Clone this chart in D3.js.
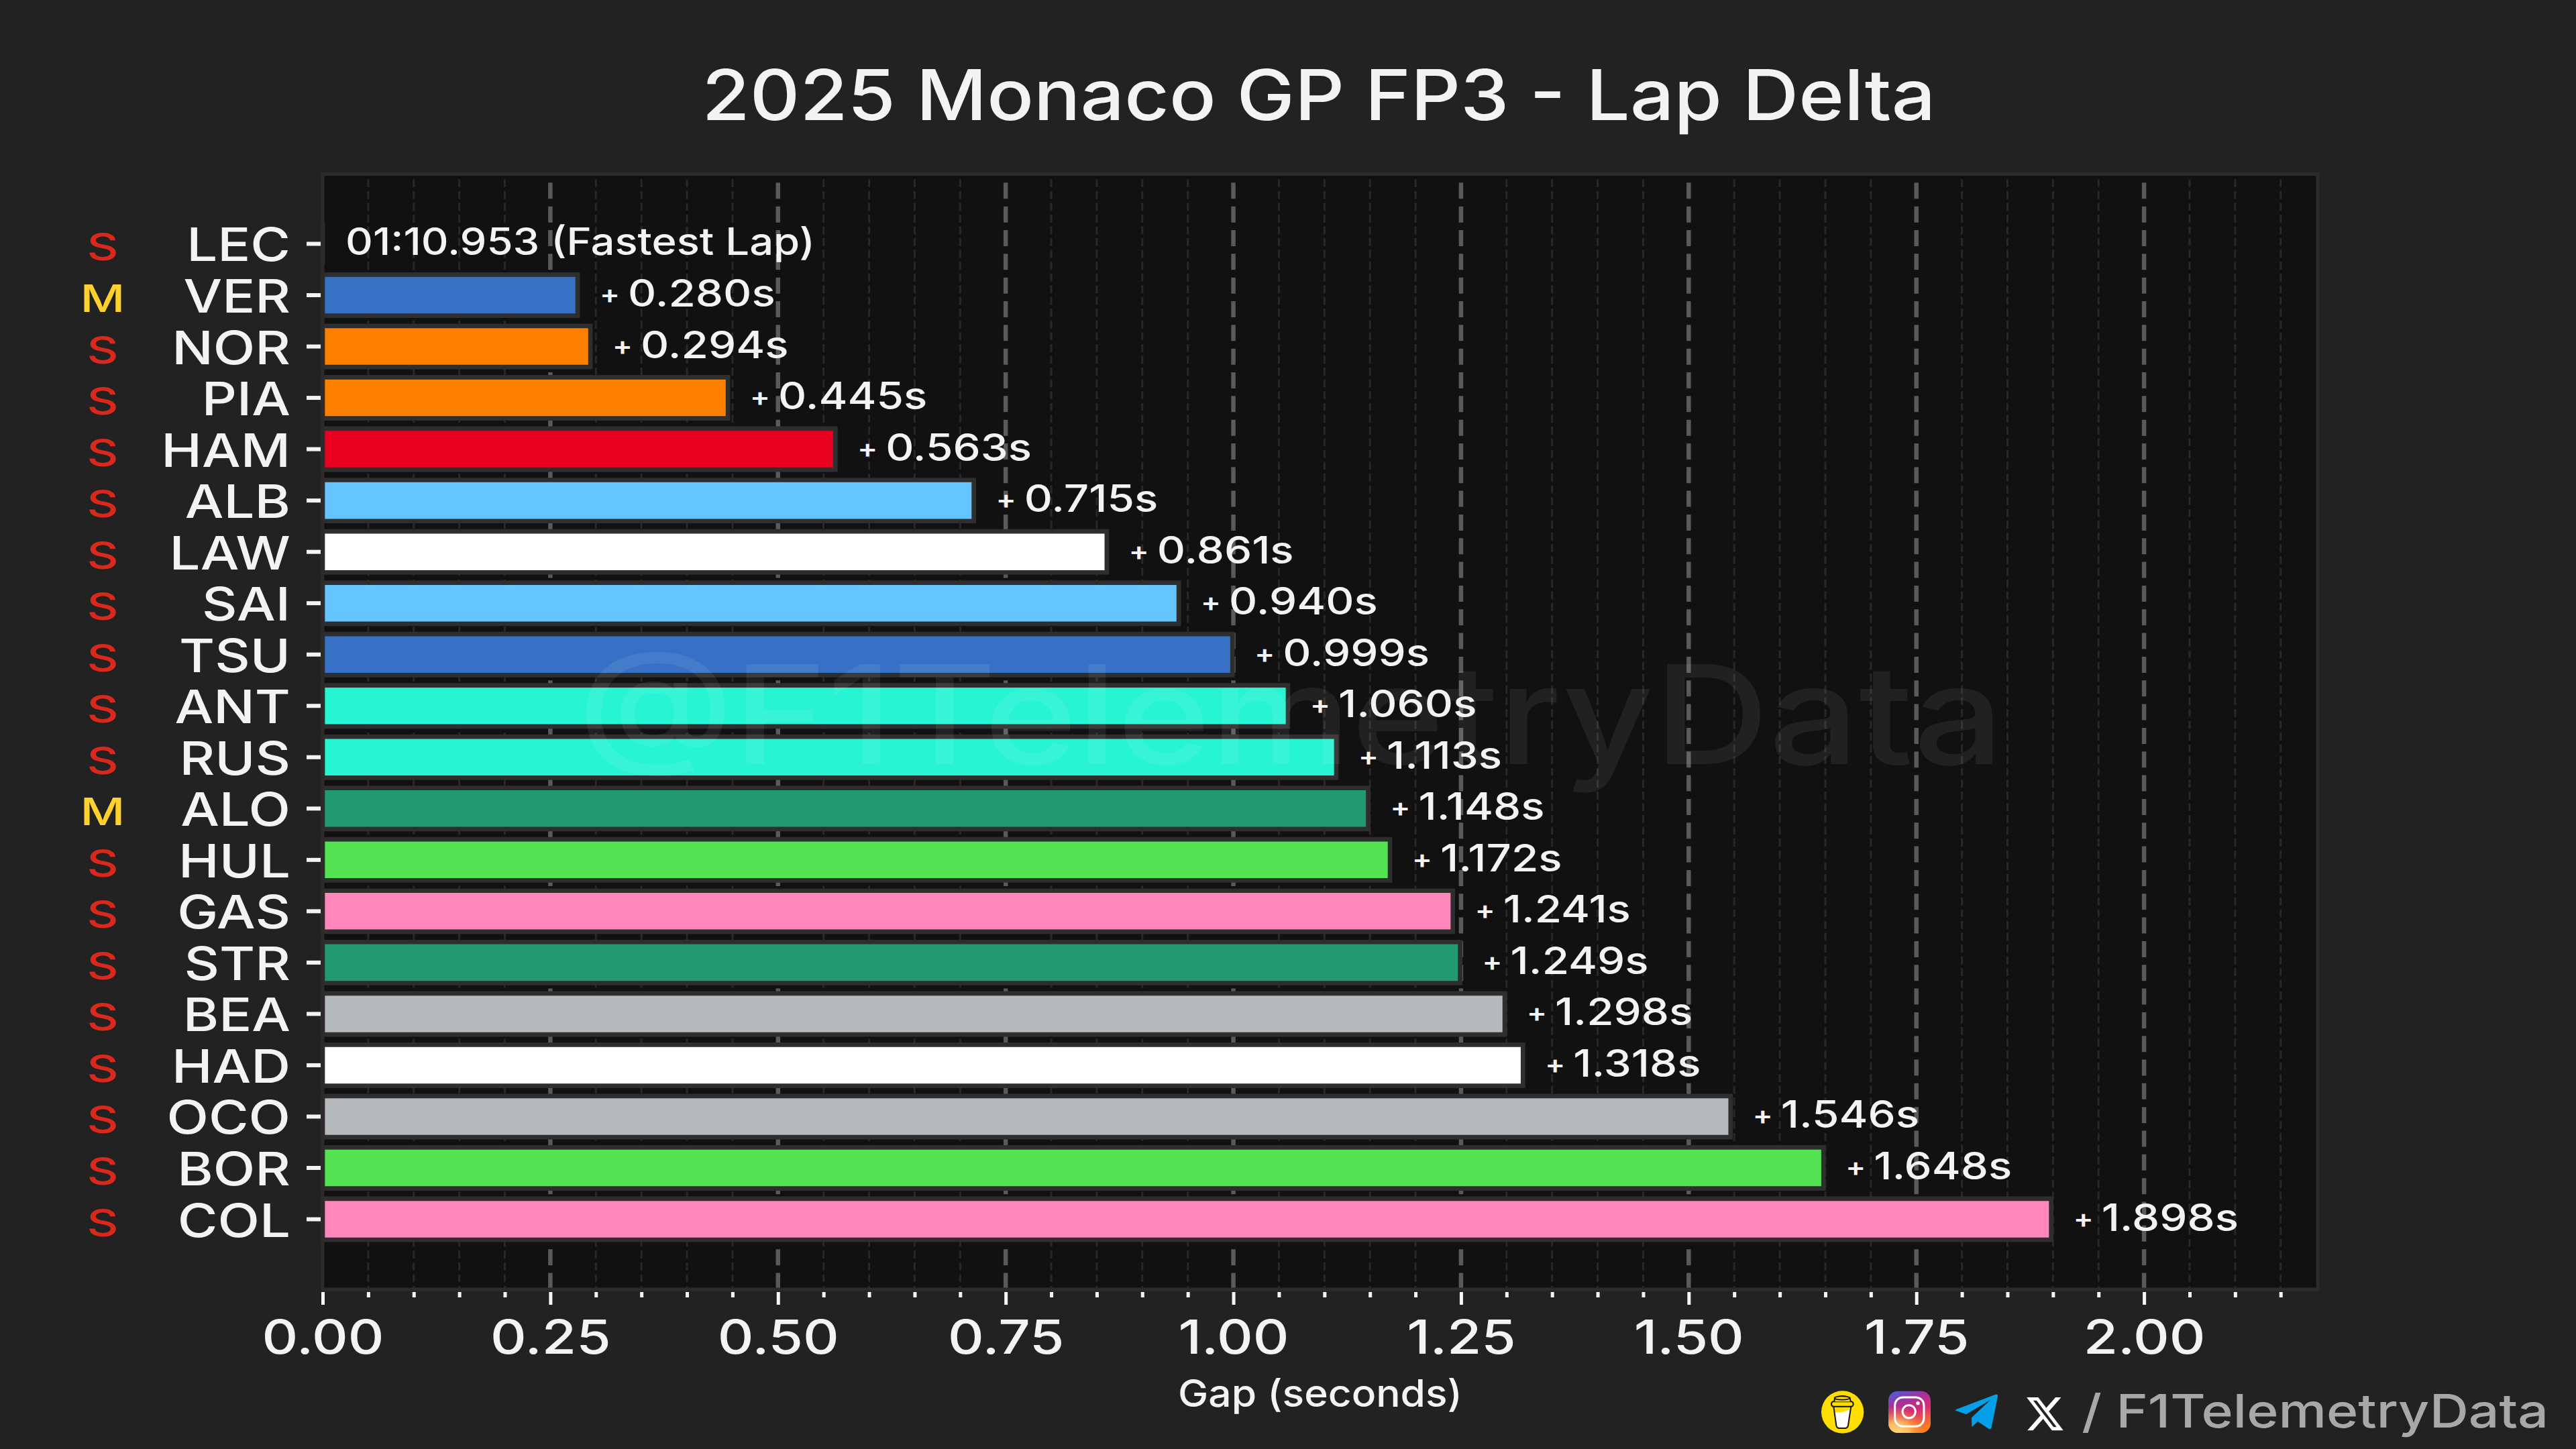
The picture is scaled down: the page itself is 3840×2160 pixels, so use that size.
<!DOCTYPE html>
<html>
<head>
<meta charset="utf-8">
<script src="https://cdn.jsdelivr.net/npm/d3@7"></script>
<style>
html,body{margin:0;padding:0;background:#222222;}
svg{display:block;}
text{font-family:Inter,Roboto,sans-serif;font-weight:450;fill:#f1f3f5;}
</style>
</head>
<body>
<script>
const drivers = ["LEC","VER","NOR","PIA","HAM","ALB","LAW","SAI","TSU","ANT","RUS","ALO","HUL","GAS","STR","BEA","HAD","OCO","BOR","COL"];
const gaps = [0,0.280,0.294,0.445,0.563,0.715,0.861,0.940,0.999,1.060,1.113,1.148,1.172,1.241,1.249,1.298,1.318,1.546,1.648,1.898];
const tyres = ["S","M","S","S","S","S","S","S","S","S","S","M","S","S","S","S","S","S","S","S"];
const barColors = ["#e80020","#3671c6","#ff8000","#ff8000","#e80020","#64c4ff","#ffffff","#64c4ff","#3671c6","#27f4d2","#27f4d2","#229971","#52e252","#ff87bc","#229971","#b6babd","#ffffff","#b6babd","#52e252","#ff87bc"];
const tyreColors = {S:"#da291c",M:"#ffd12e"};
const majorTicks = [0,0.25,0.5,0.75,1,1.25,1.5,1.75,2];
const minorTicks = [0.05,0.1,0.15,0.2,0.3,0.35,0.4,0.45,0.55,0.6,0.65,0.7,0.8,0.85,0.9,0.95,1.05,1.1,1.15,1.2,1.3,1.35,1.4,1.45,1.55,1.6,1.65,1.7,1.8,1.85,1.9,1.95,2.05,2.1,2.15];
const fastestLap = "01:10.953 (Fastest Lap)";
const titleText = "2025 Monaco GP FP3 - Lap Delta";
const xLabel = "Gap (seconds)";
const watermark = "@F1TelemetryData";
const credit = "/ F1TelemetryData";
const xMax = 2.1907;

const W=3840,H=2160;
const plot={l:481,r:3455,t:259.5,b:1922};
const svg=d3.select("body").append("svg").attr("width",W).attr("height",H).attr("viewBox",`0 0 ${W} ${H}`);
svg.append("rect").attr("width",W).attr("height",H).attr("fill","#222222");

const x=d3.scaleLinear().domain([0,xMax]).range([plot.l,plot.r]);
const y=d3.scaleBand().domain(drivers).range([plot.t-0.5,plot.b]).paddingInner(0.2).paddingOuter(0.965);

svg.append("rect").attr("x",plot.l).attr("y",plot.t).attr("width",plot.r-plot.l).attr("height",plot.b-plot.t).attr("fill","#111111");

// grid
const gridTop=262;
svg.append("g").selectAll("line").data(minorTicks).join("line")
  .attr("x1",d=>x(d)).attr("x2",d=>x(d)).attr("y1",gridTop).attr("y2",plot.b)
  .attr("stroke","#2b2727").attr("stroke-width",3).attr("stroke-dasharray","11.8 5.75").attr("stroke-dashoffset",12.25);
svg.append("g").selectAll("line").data(majorTicks.slice(1)).join("line")
  .attr("x1",d=>x(d)).attr("x2",d=>x(d)).attr("y1",gridTop).attr("y2",plot.b)
  .attr("stroke","#5a5a5a").attr("stroke-width",6.5).attr("stroke-dasharray","24 11.33").attr("stroke-dashoffset",25);

// bars
const rows=drivers.map((d,i)=>({driver:d,gap:gaps[i],tyre:tyres[i],color:barColors[i]}));
svg.append("g").selectAll("path").data(rows).join("path")
  .attr("d",d=>{const p=d3.path();p.rect(x(0),y(d.driver),x(d.gap)-x(0),y.bandwidth());return p.toString();})
  .attr("fill",d=>d.color).attr("stroke","#2e2e2e").attr("stroke-width",6.7);

// helper: stretch a single line to a target width
function fit(sel,target,tx,ty,anchor){
  const n=sel.node().getComputedTextLength();
  sel.attr("text-anchor",anchor).attr("transform",`translate(${tx},${ty}) scale(${target/n},1)`);
}

// watermark
const wm=svg.append("text").attr("class","wm").text(watermark)
  .style("font-size","205px").style("fill","#ffffff").style("fill-opacity",0.07);
fit(wm,2126,1924,1139,"middle");

// spines
const spine=svg.append("g").attr("fill","none").attr("stroke","#2e2a2a").attr("stroke-width",5);
spine.append("rect").attr("x",plot.l).attr("y",plot.t).attr("width",plot.r-plot.l).attr("height",plot.b-plot.t);

// axes
const xMinor=svg.append("g").attr("transform",`translate(0,${plot.b+1})`)
  .call(d3.axisBottom(x).tickValues(minorTicks).tickSize(11).tickFormat(""));
const xMajor=svg.append("g").attr("transform",`translate(0,${plot.b+1})`)
  .call(d3.axisBottom(x).tickValues(majorTicks).tickSize(22).tickPadding(24).tickFormat(d3.format(".2f")));
[xMinor,xMajor].forEach(a=>{
  a.select(".domain").remove();
  a.selectAll(".tick line").attr("stroke","#f5f5f5").attr("stroke-width",5).attr("y1",3);
  a.attr("font-family",null).attr("font-size",null);
});
const sxTick=1.19;
xMajor.selectAll(".tick text").attr("y",null).attr("dy",null).attr("text-anchor","middle")
  .attr("transform",`translate(0,95) scale(${sxTick},1)`).style("font-size","70px");

const yAxis=svg.append("g").attr("transform",`translate(${plot.l-3},0)`)
  .call(d3.axisLeft(y).tickSize(21).tickPadding(25));
yAxis.select(".domain").remove();
yAxis.attr("font-family",null).attr("font-size",null);
yAxis.selectAll(".tick line").attr("stroke","#f1f3f5").attr("stroke-width",6);
const sxDriver=1.18;
yAxis.selectAll(".tick text").attr("x",null).attr("dy",null).attr("text-anchor","end")
  .attr("transform",`translate(-45,26) scale(${sxDriver},1)`).style("font-size","69px");

// tyre letters
const sxTyre=1.3;
svg.append("g").selectAll("text").data(rows).join("text")
  .text(d=>d.tyre)
  .attr("text-anchor","middle")
  .attr("transform",d=>`translate(153,${y(d.driver)+y.bandwidth()/2+25}) scale(${sxTyre},1)`)
  .style("font-size","56px").style("fill",d=>tyreColors[d.tyre]);

// value labels
const sxVal=1.17;
const labels=svg.append("g").selectAll("text").data(rows).join("text")
  .attr("transform",d=>`translate(${x(d.gap)+33},${y(d.driver)+y.bandwidth()/2+17}) scale(${sxVal},1)`)
  .style("font-size","56px");
labels.filter(d=>d.gap===0).attr("data-fastest",1).text(fastestLap);
labels.filter(d=>d.gap>0).each(function(d){
  const t=d3.select(this);
  t.append("tspan").text("+ ").style("font-size","38px").style("font-weight","600").attr("dy",-5);
  t.append("tspan").text(d.gap.toFixed(3)+"s").attr("x",42/sxVal).attr("dy",5);
});

const title=svg.append("text").text(titleText).style("font-size","104px");
fit(title,1839,1966,179,"middle");
const xl=svg.append("text").text(xLabel).style("font-size","56px");
fit(xl,424,1968,2097,"middle");
const cr=svg.append("text").text(credit).style("font-size","69px").style("fill","#a8a8a8");
fit(cr,696,3799,2128,"end");
const fl=labels.filter(d=>d.gap===0);
fit(fl,700,x(0)+34,y(drivers[0])+y.bandwidth()/2+17,"start");

// footer icons (drawn in a 3x local space)
const ic=svg.append("g").attr("transform","translate(2700,2050) scale(0.3333)");
const defs=svg.append("defs");
const lg=defs.append("linearGradient").attr("id","ig").attr("x1","0.2").attr("y1","0").attr("x2","0.6").attr("y2","1");
[["0","#4f5bd5"],["0.25","#a0339f"],["0.55","#d62976"],["0.85","#f4663a"],["1","#fa7e1e"]].forEach(s=>lg.append("stop").attr("offset",s[0]).attr("stop-color",s[1]));
const rg=defs.append("radialGradient").attr("id","ig2").attr("cx","0.2").attr("cy","1.05").attr("r","0.7");
[["0","#ffdc80","1"],["0.45","#ffc860","0.85"],["1","#fa7e1e","0"]].forEach(s=>rg.append("stop").attr("offset",s[0]).attr("stop-color",s[1]).attr("stop-opacity",s[2]));
// coffee
ic.append("circle").attr("cx",140).attr("cy",165).attr("r",95).attr("fill","#ffdd00");
ic.append("path").attr("d","M104,165 Q140,170 172,152 L162,225 Q160,234 150,234 L126,234 Q116,234 114,225 Z").attr("fill","#ffffff");
ic.append("path").attr("d","M100,140 L112,225 Q115,237 125,237 L152,237 Q162,237 165,225 L178,140").attr("fill","none").attr("stroke","#14142b").attr("stroke-width",6);
ic.append("rect").attr("x",90).attr("y",118).attr("width",98).attr("height",22).attr("rx",10).attr("fill","#ffdd00").attr("stroke","#14142b").attr("stroke-width",6);
ic.append("path").attr("d","M103,118 L105,101 Q138,85 173,101 L176,118").attr("fill","#ffdd00").attr("stroke","#14142b").attr("stroke-width",6);
ic.append("ellipse").attr("cx",138).attr("cy",102).attr("rx",33).attr("ry",8).attr("fill","#ffdd00").attr("stroke","#14142b").attr("stroke-width",5);
// instagram
ic.append("rect").attr("x",345).attr("y",71).attr("width",189).attr("height",187).attr("rx",42).attr("fill","url(#ig)");
ic.append("rect").attr("x",345).attr("y",71).attr("width",189).attr("height",187).attr("rx",42).attr("fill","url(#ig2)");
ic.append("rect").attr("x",374).attr("y",99).attr("width",130).attr("height",130).attr("rx",36).attr("fill","none").attr("stroke","#fff").attr("stroke-width",9);
ic.append("circle").attr("cx",437).attr("cy",163).attr("r",29).attr("fill","none").attr("stroke","#fff").attr("stroke-width",9);
ic.append("circle").attr("cx",477).attr("cy",125).attr("r",8).attr("fill","#fff");
// telegram
ic.append("path").attr("d","M650,152 L824,86 Q835,83 834,95 L806,234 Q803,244 793,239 L745,207 L718,232 L717,190 L800,112 L693,175 L650,160 Q640,156 650,152 Z").attr("fill","#049fe8");
// X
ic.append("path").attr("transform","translate(954,82) scale(7.59)")
  .attr("d","M18.244 2.25h3.308l-7.227 8.26 8.502 11.24H16.17l-5.214-6.817L4.99 21.75H1.68l7.73-8.835L1.254 2.25H8.08l4.713 6.231zm-1.161 17.52h1.833L7.084 4.126H5.117z")
  .attr("fill","#fff");
</script>
</body>
</html>
